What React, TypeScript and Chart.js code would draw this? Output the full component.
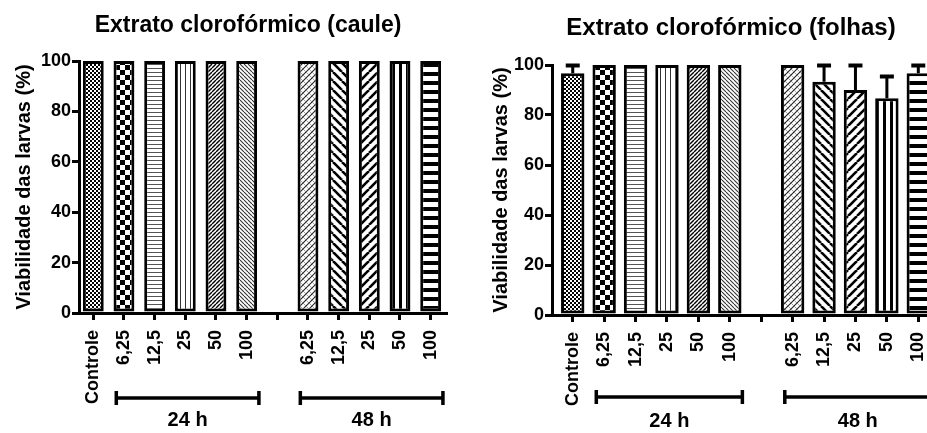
import React, { useEffect, useRef } from 'react';
import { Chart, registerables } from 'chart.js';

Chart.register(...registerables);

const FONT = "'Liberation Sans', Arial, Helvetica, sans-serif";

// ---------- data ----------
const CATEGORIES = ['Controle', '6,25', '12,5', '25', '50', '100', '', '6,25', '12,5', '25', '50', '100'];
const Y_TICKS = [0, 20, 40, 60, 80, 100];

const CAULE_MEAN = [100, 100, 100, 100, 100, 100, null, 100, 100, 100, 100, 100];
const CAULE_ERR = [0, 0, 0, 0, 0, 0, null, 0, 0, 0, 0, 0];

const FOLHAS_MEAN = [96.7, 100, 100, 100, 100, 100, null, 100, 93.3, 90, 86.7, 96.7];
const FOLHAS_ERR = [3.3, 0, 0, 0, 0, 0, null, 0, 6.7, 10, 8.9, 3.3];

const GROUP_LABELS = ['24 h', '48 h'];
const GROUP_START = [1, 7];
const GROUP_END = [5, 11];

const PATTERN_KEYS = ['fineChecker', 'bigChecker', 'hThin', 'vThin', 'fwdThin', 'backThin', null, 'cross', 'backThick', 'fwdThick', 'vThick', 'hThick'];

// ---------- patterns ----------
function tile(ctx: CanvasRenderingContext2D, w: number, h: number, draw: (g: CanvasRenderingContext2D) => void) {
  const c = document.createElement('canvas');
  c.width = w;
  c.height = h;
  const g = c.getContext('2d')!;
  g.fillStyle = '#fff';
  g.fillRect(0, 0, w, h);
  draw(g);
  return ctx.createPattern(c, 'repeat')!;
}

function diag(g: CanvasRenderingContext2D, w: number, h: number, fwd: boolean, lw: number, color: string) {
  g.strokeStyle = color;
  g.lineWidth = lw;
  for (let k = -1; k <= 1; k++) {
    g.beginPath();
    if (fwd) {
      g.moveTo(k * w, h);
      g.lineTo(k * w + w, 0);
    } else {
      g.moveTo(k * w, 0);
      g.lineTo(k * w + w, h);
    }
    g.stroke();
  }
}

function makePatterns(ctx: CanvasRenderingContext2D) {
  const p: Record<string, CanvasPattern> = {};
  p.fineChecker = tile(ctx, 4, 4, (g) => {
    g.fillStyle = '#000';
    g.fillRect(0, 0, 4, 4);
    g.fillStyle = '#fff';
    g.fillRect(0, 0, 2, 2);
    g.fillRect(2, 2, 2, 2);
  });
  p.bigChecker = tile(ctx, 10, 10, (g) => {
    g.fillStyle = '#000';
    g.fillRect(0, 0, 5, 5);
    g.fillRect(5, 5, 5, 5);
  });
  p.hThin = tile(ctx, 1, 4, (g) => {
    g.fillStyle = '#555';
    g.fillRect(0, 0, 1, 1);
  });
  p.vThin = tile(ctx, 5, 1, (g) => {
    g.fillStyle = '#333';
    g.fillRect(0, 0, 1, 1);
  });
  p.fwdThin = tile(ctx, 4, 4, (g) => diag(g, 4, 4, true, 1.4, '#000'));
  p.backThin = tile(ctx, 4, 4, (g) => diag(g, 4, 4, false, 1.1, '#333'));
  p.cross = tile(ctx, 6, 6, (g) => {
    diag(g, 6, 6, true, 1.1, '#222');
    diag(g, 6, 6, false, 0.7, '#777');
  });
  p.backThick = tile(ctx, 9, 9, (g) => diag(g, 9, 9, false, 2.6, '#000'));
  p.fwdThick = tile(ctx, 9, 9, (g) => diag(g, 9, 9, true, 2.6, '#000'));
  p.vThick = tile(ctx, 7, 1, (g) => {
    g.fillStyle = '#000';
    g.fillRect(0, 0, 3, 1);
  });
  p.hThick = tile(ctx, 1, 9, (g) => {
    g.fillStyle = '#000';
    g.fillRect(0, 0, 1, 4);
  });
  return p;
}

// ---------- panel ----------
type PanelProps = {
  mean: (number | null)[];
  err: (number | null)[];
  title: string;
  titleX: number;
  titleY: number;
  titleSize: number;
  left: number;
  width: number;
  height: number;
  padTop: number;
  padRight: number;
  yWidth: number;
  yTitlePad: number;
  xHeight: number;
  xMin: number;
  xMax: number;
  barPct: number;
  bracketOffset: number;
  labelOffset: number;
};

function Panel(props: PanelProps) {
  const ref = useRef<HTMLCanvasElement>(null);
  useEffect(() => {
    const canvas = ref.current!;
    const ctx = canvas.getContext('2d')!;
    const pats = makePatterns(ctx);
    const tickFont = { family: FONT, size: 18, weight: 'bold' as const };

    const annot = {
      id: 'annot',
      afterDraw(chart: any) {
        const c = chart.ctx as CanvasRenderingContext2D;
        const xs = chart.scales.x;
        const ys = chart.scales.y;
        const area = chart.chartArea;
        const slot = xs.getPixelForValue(1) - xs.getPixelForValue(0);
        c.save();
        c.strokeStyle = '#000';
        c.fillStyle = '#000';
        c.lineCap = 'butt';
        // error bars (upper only)
        const meta = chart.getDatasetMeta(0);
        meta.data.forEach((el: any, i: number) => {
          const m = props.mean[i];
          const e = props.err[i];
          if (m == null || !e) return;
          const yTop = ys.getPixelForValue(m + e);
          c.lineWidth = 3;
          c.beginPath();
          c.moveTo(el.x, el.y);
          c.lineTo(el.x, yTop);
          c.stroke();
          c.lineWidth = 4;
          c.beginPath();
          c.moveTo(el.x - 7, yTop + 0.5);
          c.lineTo(el.x + 7, yTop + 0.5);
          c.stroke();
        });
        // group brackets
        for (let g = 0; g < GROUP_LABELS.length; g++) {
          const x1 = xs.getPixelForValue(GROUP_START[g]) - 0.25 * slot;
          const x2 = xs.getPixelForValue(GROUP_END[g]) + 0.4 * slot;
          const y = area.bottom + props.bracketOffset;
          c.lineWidth = 3.5;
          c.beginPath();
          c.moveTo(x1, y);
          c.lineTo(x2, y);
          c.stroke();
          c.beginPath();
          c.moveTo(x1, y - 7);
          c.lineTo(x1, y + 7);
          c.moveTo(x2, y - 7);
          c.lineTo(x2, y + 7);
          c.stroke();
          c.font = `bold 20px ${FONT}`;
          c.textAlign = 'center';
          c.textBaseline = 'alphabetic';
          c.fillText(GROUP_LABELS[g], (x1 + x2) / 2, area.bottom + props.labelOffset);
        }
        // title
        c.font = `bold ${props.titleSize}px ${FONT}`;
        c.textAlign = 'center';
        c.textBaseline = 'alphabetic';
        c.fillText(props.title, props.titleX, props.titleY);
        c.restore();
      },
    };

    const chart = new Chart(canvas, {
      type: 'bar',
      data: {
        datasets: [
          {
            data: CATEGORIES.map((_, i) => ({ x: i, y: props.mean[i] })) as any,
            backgroundColor: PATTERN_KEYS.map((k) => (k ? pats[k] : '#fff')) as any,
            borderColor: '#000',
            borderWidth: 3,
            borderSkipped: false,
            barPercentage: props.barPct,
            categoryPercentage: 1,
          },
        ],
      },
      options: {
        responsive: false,
        animation: false,
        devicePixelRatio: 1,
        layout: { padding: { top: props.padTop, right: props.padRight, left: 0, bottom: 0 } },
        plugins: { legend: { display: false }, tooltip: { enabled: false }, title: { display: false } },
        scales: {
          x: {
            type: 'linear',
            offset: false,
            min: props.xMin,
            max: props.xMax,
            afterBuildTicks: (s: any) => {
              s.ticks = CATEGORIES.map((_, i) => ({ value: i }));
            },
            ticks: {
              autoSkip: false,
              maxRotation: 90,
              minRotation: 90,
              padding: 10,
              color: '#000',
              font: tickFont,
              callback: (v: any) => CATEGORIES[Number(v)] ?? '',
            },
            grid: { offset: false, drawOnChartArea: false, color: '#000', lineWidth: 3, tickLength: 7 },
            border: { display: true, color: '#000', width: 3 },
            afterFit: (s: any) => {
              s.height = props.xHeight;
              s.paddingLeft = 0;
              s.paddingRight = 0;
            },
          },
          y: {
            min: 0,
            max: 100,
            afterBuildTicks: (s: any) => {
              s.ticks = Y_TICKS.map((v) => ({ value: v }));
            },
            ticks: { padding: 1, color: '#000', font: tickFont },
            grid: { drawOnChartArea: false, color: '#000', lineWidth: 3, tickLength: 7 },
            border: { display: true, color: '#000', width: 3 },
            title: {
              display: true,
              text: 'Viabilidade das larvas (%)',
              color: '#000',
              font: { family: FONT, size: 20, weight: 'bold' },
              padding: { top: props.yTitlePad, bottom: 0 },
            },
            afterFit: (s: any) => {
              s.width = props.yWidth;
            },
          },
        },
      } as any,
      plugins: [annot],
    });
    return () => chart.destroy();
  }, []);

  return (
    <canvas
      ref={ref}
      width={props.width}
      height={props.height}
      style={{ position: 'absolute', left: props.left, top: 0, width: props.width, height: props.height }}
    />
  );
}

export default function App() {
  return (
    <div style={{ position: 'fixed', left: 0, top: 0, width: 927, height: 433, overflow: 'hidden', background: '#fff' }}>
      <Panel
        mean={CAULE_MEAN}
        err={CAULE_ERR}
        title="Extrato clorofórmico (caule)"
        titleX={248}
        titleY={32}
        titleSize={23}
        left={0}
        width={465}
        height={433}
        padTop={61}
        padRight={19}
        yWidth={79}
        yTitlePad={12}
        xHeight={120}
        xMin={-0.466}
        xMax={11.5}
        barPct={0.68}
        bracketOffset={85}
        labelOffset={113}
      />
      <Panel
        mean={FOLHAS_MEAN}
        err={FOLHAS_ERR}
        title="Extrato clorofórmico (folhas)"
        titleX={261}
        titleY={35}
        titleSize={24}
        left={470}
        width={480}
        height={433}
        padTop={65}
        padRight={16}
        yWidth={82}
        yTitlePad={19}
        xHeight={118}
        xMin={-0.66}
        xMax={11.5}
        barPct={0.745}
        bracketOffset={82}
        labelOffset={112}
      />
    </div>
  );
}
